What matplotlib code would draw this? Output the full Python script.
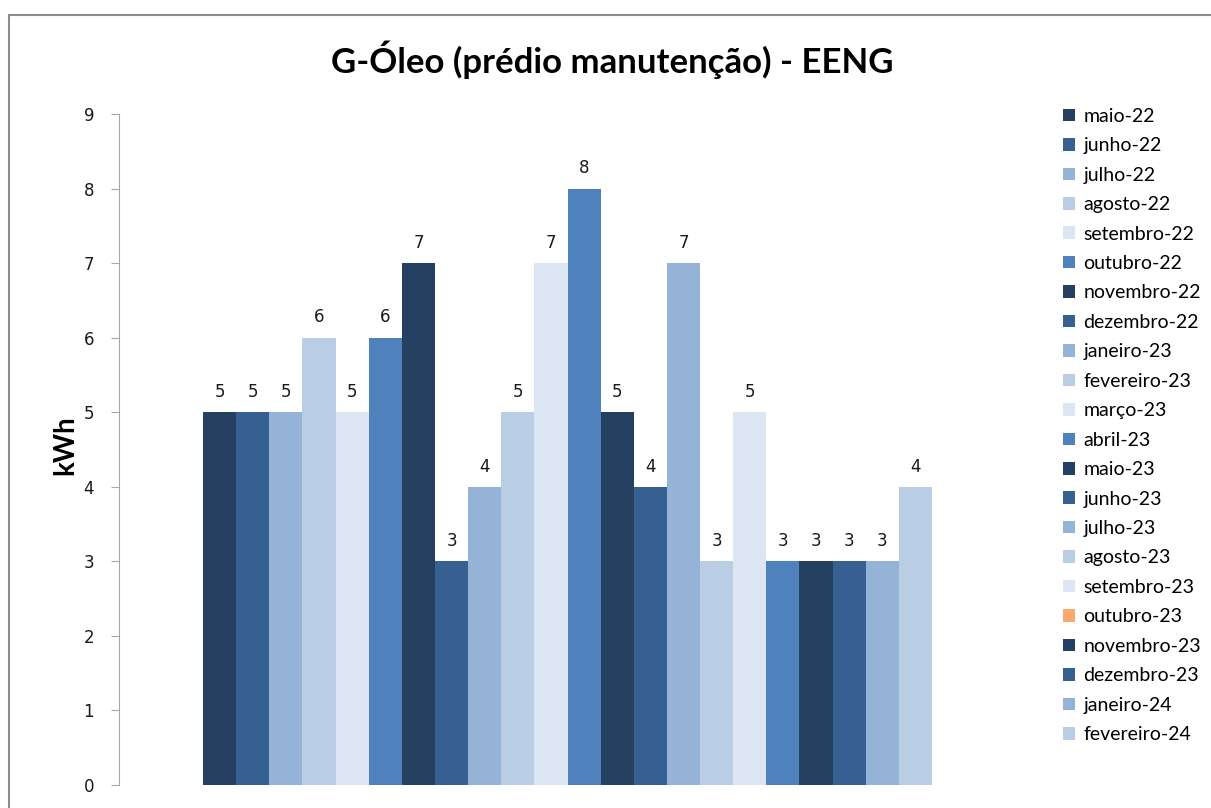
import matplotlib
matplotlib.use("Agg")
import matplotlib.pyplot as plt
from matplotlib.patches import Patch, Rectangle

months = ["maio-22", "junho-22", "julho-22", "agosto-22", "setembro-22", "outubro-22",
          "novembro-22", "dezembro-22", "janeiro-23", "fevereiro-23", "março-23", "abril-23",
          "maio-23", "junho-23", "julho-23", "agosto-23", "setembro-23", "outubro-23",
          "novembro-23", "dezembro-23", "janeiro-24", "fevereiro-24"]
values = [5, 5, 5, 6, 5, 6, 7, 3, 4, 5, 7, 8, 5, 4, 7, 3, 5, 3, 3, 3, 3, 4]
yticks = [0, 1, 2, 3, 4, 5, 6, 7, 8, 9]
title = "G-Óleo (prédio manutenção) - EENG"
ylabel = "kWh"

palette = ["#254061", "#376092", "#95B3D7", "#B9CDE5", "#DCE6F2", "#4F81BD"]
bar_colors = [palette[i % 6] for i in range(len(months))]
legend_colors = list(bar_colors)
legend_colors[17] = "#F9A86F"

fig = plt.figure(figsize=(12.11, 8.08), dpi=100)
W, H = 1211, 808
ax = fig.add_axes([119 / W, 1 - 785 / H, (1016 - 119) / W, (785 - 114) / H])

xs = list(range(len(months)))
ax.bar(xs, values, width=1.0, color=bar_colors, edgecolor="none")
for x, v in zip(xs, values):
    ax.annotate(str(v), (x, v), xytext=(0, 11), textcoords="offset points",
                ha="center", va="baseline", fontsize=12, family="DejaVu Sans", color="#1a1a1a")

ax.set_ylim(0, 9)
ax.set_xlim(-0.5 - 84 / 33.14, len(months) - 0.5 + 84 / 33.14)
ax.set_yticks(yticks)
ax.set_yticklabels([str(t) for t in yticks], fontsize=12, family="DejaVu Sans", color="#1a1a1a")
ax.set_xticks([])
for s in ["top", "right", "bottom"]:
    ax.spines[s].set_visible(False)
ax.spines["left"].set_color("#A6A6A6")
ax.tick_params(axis="y", length=6, color="#A6A6A6", pad=12)

fig.text(65 / W, 1 - 445 / H, ylabel, rotation=90, ha="center", va="center",
         fontsize=20, fontweight="bold", family="Lato")
fig.text(612 / W, 1 - 60 / H, title, ha="center", va="center",
         fontsize=25, fontweight="bold", family="Lato")

handles = [Patch(facecolor=c, edgecolor="none") for c in legend_colors]
leg = fig.legend(handles, months, loc="upper left", bbox_to_anchor=(1055 / W, 1 - 100 / H),
                 frameon=False, prop={"family": "Lato", "size": 14},
                 handlelength=0.62, handleheight=0.62, handletextpad=0.45,
                 labelspacing=0.64, borderaxespad=0)

fig.patches.append(Rectangle((9 / W, -0.1), 1.5, (1 - 15 / H) + 0.1, transform=fig.transFigure,
                             fill=False, edgecolor="#8C8C8C", linewidth=1.5))

fig.savefig("out.png", dpi=100)
